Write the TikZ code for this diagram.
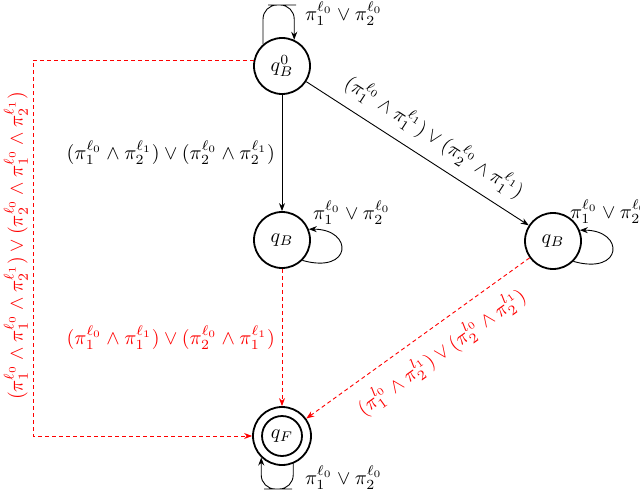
\documentclass[tikz,border=0pt]{standalone}
\usepackage{amsmath,amssymb}
\usetikzlibrary{arrows.meta}
\begin{document}
\begin{tikzpicture}[x=0.5pt,y=-0.5pt,
  st/.style={circle,draw,line width=0.9pt,minimum size=28pt,inner sep=0pt},
  ed/.style={-{Stealth[length=4pt,width=3pt]},line width=0.45pt},
  rd/.style={ed,red,dash pattern=on 2pt off 1.5pt},
  lp/.style={ed,rounded corners=7pt}
]
\useasboundingbox (0,0) rectangle (640,491);
\node[st] (q0) at (282,66) {$q_B^0$};
\node[st] (m) at (282,240) {$q_B$};
\node[st] (r) at (553,241) {$q_B$};
\node[st,minimum size=29pt] (f) at (282,436) {};
\node[st,minimum size=20pt] (fi) at (f) {$q_F$};

% self loops
\coordinate (t0) at (282,5);
\draw[lp] (q0.131) |- (t0) -| (q0.65);
\node[anchor=west] (l0) at (298,14) {$\pi_1^{\ell_0}\vee\pi_2^{\ell_0}$};

\draw[ed] (m.-45) .. controls +(50,14) and +(45,0) .. (m.22);
\node[anchor=west] (l1) at (306,213) {$\pi_1^{\ell_0}\vee\pi_2^{\ell_0}$};

\draw[ed] (r.-45) .. controls +(50,14) and +(45,0) .. (r.22);
\node[anchor=west] (l2) at (563,212) {$\pi_1^{\ell_0}\vee\pi_2^{\ell_0}$};

\coordinate (tf) at (278,489);
\draw[lp] (f.-68) |- (tf) -| (f.-134);
\node[anchor=west] (l3) at (298,478) {$\pi_1^{\ell_0}\vee\pi_2^{\ell_0}$};

% edges
\draw[ed] (q0) -- node[left] {$(\pi_1^{\ell_0}\wedge\pi_2^{\ell_1})\vee(\pi_2^{\ell_0}\wedge\pi_2^{\ell_1})$} (m);
\draw[ed] (q0) -- node[above=2pt,sloped,pos=0.52] {$(\pi_1^{\ell_0}\wedge\pi_1^{\ell_1})\vee(\pi_2^{\ell_0}\wedge\pi_1^{\ell_1})$} (r);
\draw[rd] (m) -- node[left,red] {$(\pi_1^{\ell_0}\wedge\pi_1^{\ell_1})\vee(\pi_2^{\ell_0}\wedge\pi_1^{\ell_1})$} (f);
\draw[rd] (r) -- node[below=3pt,sloped,red,pos=0.46] {$(\pi_1^{l_0}\wedge\pi_2^{l_1})\vee(\pi_2^{l_0}\wedge\pi_2^{l_1})$} (f);
\coordinate (cL) at (33,436);
\draw[rd] (q0.168) -| (cL) -- (f);
\node[rotate=90,red] (lL) at (16,246) {$(\pi_1^{\ell_0}\wedge\pi_1^{\ell_0}\wedge\pi_2^{\ell_1})\vee(\pi_2^{\ell_0}\wedge\pi_1^{\ell_0}\wedge\pi_2^{\ell_1})$};
\end{tikzpicture}
\end{document}
